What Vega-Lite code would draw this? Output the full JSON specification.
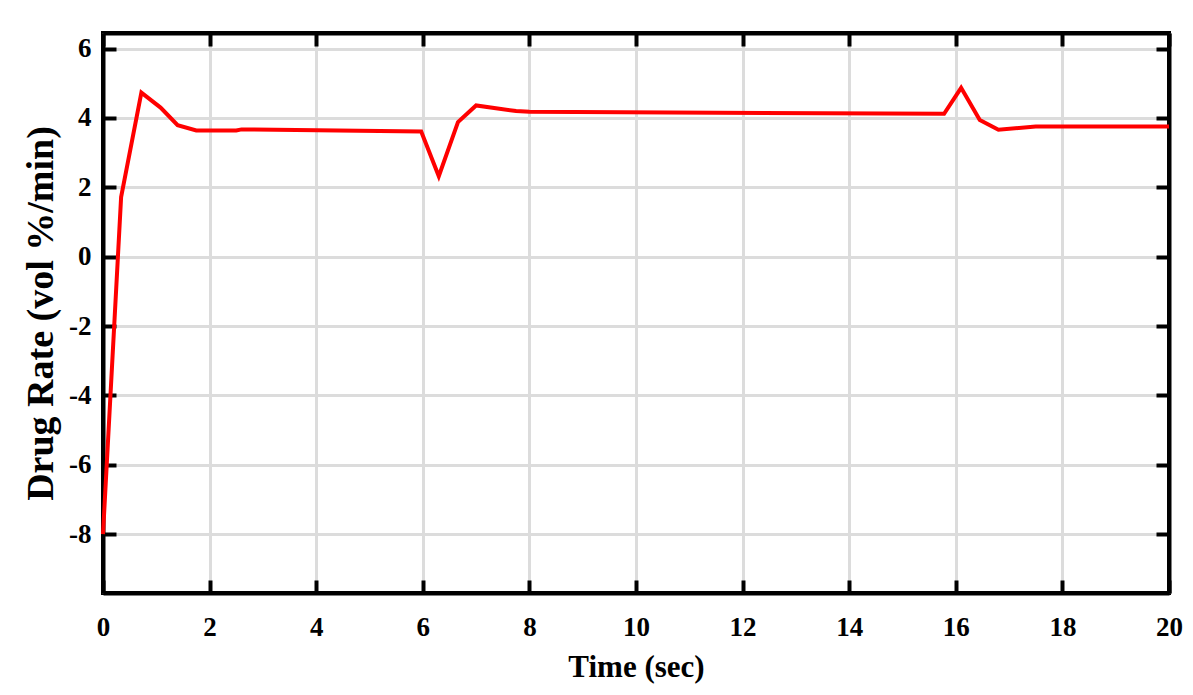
{
  "$schema": "https://vega.github.io/schema/vega-lite/v6.json",
  "autosize": "none",
  "width": 1066,
  "height": 560,
  "padding": {"left": 103, "top": 33, "right": 24, "bottom": 102},
  "background": "white",
  "data": {
    "values": [
      {"t": 0, "rate": -8},
      {"t": 0.34, "rate": 1.72},
      {"t": 0.72, "rate": 4.73},
      {"t": 1.08, "rate": 4.3},
      {"t": 1.4, "rate": 3.79},
      {"t": 1.75, "rate": 3.64},
      {"t": 2.5, "rate": 3.64},
      {"t": 2.6, "rate": 3.67},
      {"t": 5.97, "rate": 3.61},
      {"t": 6.3, "rate": 2.32},
      {"t": 6.66, "rate": 3.88},
      {"t": 7.0, "rate": 4.36},
      {"t": 7.75, "rate": 4.2},
      {"t": 8.0, "rate": 4.18},
      {"t": 15.78, "rate": 4.12},
      {"t": 16.1, "rate": 4.87},
      {"t": 16.45, "rate": 3.94},
      {"t": 16.8, "rate": 3.66},
      {"t": 17.5, "rate": 3.75},
      {"t": 20, "rate": 3.75}
    ]
  },
  "layer": [
    {
      "mark": {"type": "line", "color": "#ff0000", "strokeWidth": 4},
      "encoding": {
        "x": {
          "field": "t", "type": "quantitative", "title": "Time (sec)",
          "scale": {"domain": [0, 20], "nice": false},
          "axis": {"values": [0, 2, 4, 6, 8, 10, 12, 14, 16, 18, 20], "orient": "bottom",
                   "labelPadding": 34, "titlePadding": 12, "labelFontSize": 27,
                   "labelExpr": "toString(datum.value)"}
        },
        "y": {
          "field": "rate", "type": "quantitative", "title": "Drug Rate (vol %/min)",
          "scale": {"domain": [-9.7, 6.45], "nice": false, "zero": false},
          "axis": {"values": [-8, -6, -4, -2, 0, 2, 4, 6], "orient": "left",
                   "labelPadding": 25, "titlePadding": 8, "titleFontSize": 38,
                   "labelFontSize": 27, "labelExpr": "toString(datum.value)"}
        }
      }
    },
    {
      "mark": {"type": "line", "strokeOpacity": 0},
      "encoding": {
        "x": {
          "field": "t", "type": "quantitative",
          "axis": {"values": [0, 2, 4, 6, 8, 10, 12, 14, 16, 18, 20], "orient": "top",
                   "labels": false, "title": null, "grid": false}
        },
        "y": {
          "field": "rate", "type": "quantitative",
          "axis": {"values": [-8, -6, -4, -2, 0, 2, 4, 6], "orient": "right",
                   "labels": false, "title": null, "grid": false}
        }
      }
    }
  ],
  "resolve": {"axis": {"x": "independent", "y": "independent"}},
  "config": {
    "font": "Liberation Serif",
    "view": {"stroke": "black", "strokeWidth": 4},
    "axis": {
      "grid": true,
      "gridColor": "#dcdcdc",
      "gridWidth": 3,
      "domainColor": "black",
      "domainWidth": 4,
      "tickColor": "black",
      "tickWidth": 4,
      "tickSize": -13,
      "labelFlush": false,
      "labelFont": "Liberation Serif",
      "labelFontWeight": "bold",
      "labelColor": "black",
      "titleFont": "Liberation Serif",
      "titleFontWeight": "bold",
      "titleFontSize": 31,
      "titleColor": "black"
    }
  }
}
